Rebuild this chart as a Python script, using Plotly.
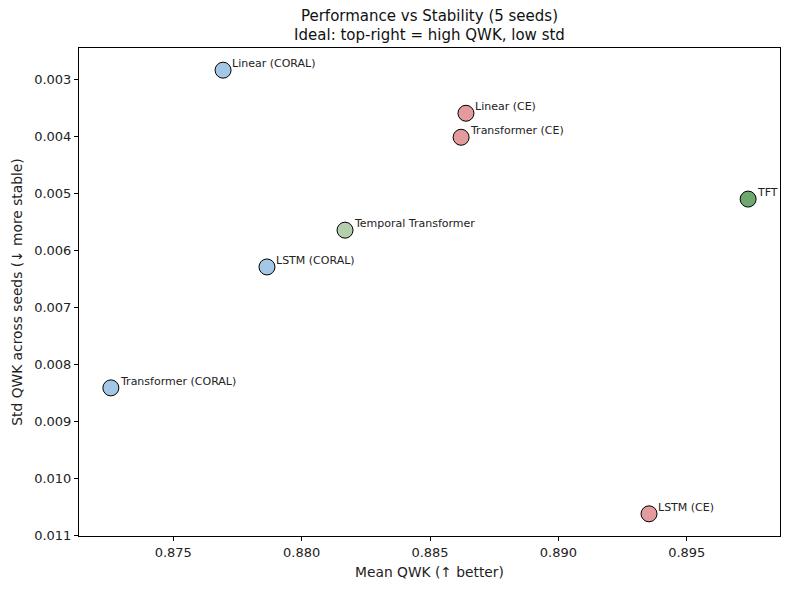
import plotly.graph_objects as go

# values
models = ["Linear (CORAL)", "Linear (CE)", "Transformer (CE)", "TFT",
          "Temporal Transformer", "LSTM (CORAL)", "Transformer (CORAL)", "LSTM (CE)"]
mean_qwk = [0.87694, 0.88640, 0.88621, 0.89739, 0.88169, 0.87865, 0.87257, 0.89353]
std_qwk = [0.00284, 0.003595, 0.004016, 0.00510, 0.005645, 0.00629, 0.00841, 0.010618]
colors = ["#a4c7e6", "#e39b9d", "#e39b9d", "#6fa86e",
          "#b4cfac", "#a4c7e6", "#a4c7e6", "#e39b9d"]

y_ticks = [0.003, 0.004, 0.005, 0.006, 0.007, 0.008, 0.009, 0.010, 0.011]
x_ticks = [0.875, 0.880, 0.885, 0.890, 0.895]

font = "DejaVu Sans, sans-serif"

fig = go.Figure(go.Scatter(
    x=mean_qwk, y=std_qwk, mode="markers",
    marker=dict(size=16, color=colors, line=dict(color="black", width=1)),
    hovertext=models, hoverinfo="text",
))

# point labels, offset up-right like matplotlib's annotate(xytext=(5, 5))
for name, mx, sy in zip(models, mean_qwk, std_qwk):
    fig.add_annotation(x=mx, y=sy, text=name, showarrow=False,
                       xanchor="left", yanchor="bottom", xshift=7, yshift=-2,
                       font=dict(size=11, color="#222222", family=font))

xspan = max(mean_qwk) - min(mean_qwk)
yspan = max(std_qwk) - min(std_qwk)

# page body has an 8px margin, so the figure is sized to fit inside the window
fig.update_layout(
    width=782, height=582,
    margin=dict(l=71, r=10, t=40, b=54, autoexpand=False),
    paper_bgcolor="white", plot_bgcolor="white",
    font=dict(family=font, color="#222222", size=13),
    showlegend=False,
    title=dict(text="Performance vs Stability (5 seeds)<br>Ideal: top-right = high QWK, low std",
               x=0.539, xanchor="center", xref="container",
               y=0.978, yref="container", yanchor="top",
               font=dict(size=15, family=font, color="#111111")),
    xaxis=dict(
        title=dict(text="Mean QWK (↑ better)", standoff=8, font=dict(size=13.8)),
        range=[min(mean_qwk) - 0.05 * xspan, max(mean_qwk) + 0.05 * xspan],
        tickvals=x_ticks, ticktext=[f"{v:.3f}" for v in x_ticks],
        ticks="outside", ticklen=4, tickcolor="black", automargin=False,
        showline=True, linecolor="black", linewidth=1, mirror=True,
        showgrid=False, zeroline=False,
    ),
    yaxis=dict(
        title=dict(text="Std QWK across seeds (↓ more stable)", standoff=8, font=dict(size=13.8)),
        range=[max(std_qwk) + 0.05 * yspan, min(std_qwk) - 0.05 * yspan],
        tickvals=y_ticks, ticktext=[f"{v:.3f}" for v in y_ticks],
        ticks="outside", ticklen=4, tickcolor="black", automargin=False,
        showline=True, linecolor="black", linewidth=1, mirror=True,
        showgrid=False, zeroline=False,
    ),
)

fig.write_html("out.html")
